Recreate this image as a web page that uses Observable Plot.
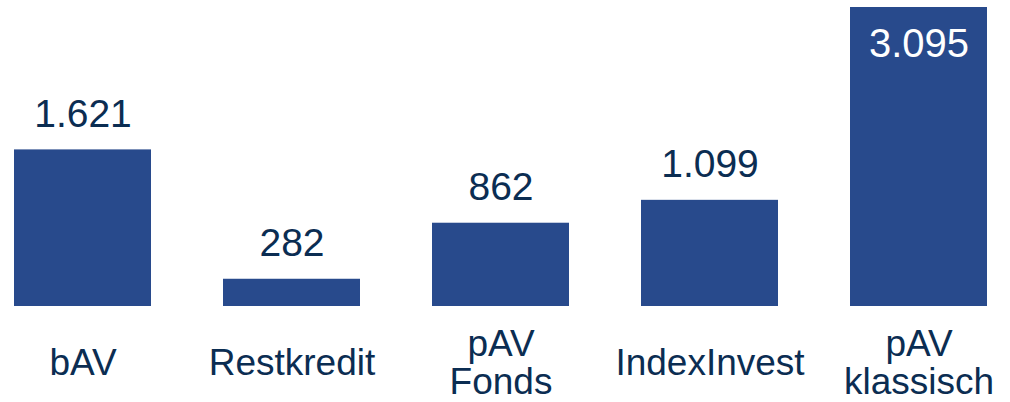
<!DOCTYPE html>
<html>
<head>
<meta charset="utf-8">
<script src="https://cdn.jsdelivr.net/npm/d3@7"></script>
<script src="https://cdn.jsdelivr.net/npm/@observablehq/plot@0.6"></script>
<style>
  html, body { margin: 0; padding: 0; background: #fff; }
  svg { display: block; }
</style>
</head>
<body>
<div id="chart"></div>
<script>
const categories = ["bAV", "Restkredit", "pAV\nFonds", "IndexInvest", "pAV\nklassisch"];
const values = [1621, 282, 862, 1099, 3095];

const data = categories.map((c, i) => ({category: c, value: values[i]}));
const maxValue = d3.max(values);
const fmt = d3.formatLocale({decimal: ",", thousands: ".", grouping: [3], currency: ["", "€"]}).format(",");

const barColor = "#284a8c";
const textColor = "#0b2d52";

const chart = Plot.plot({
  width: 1010,
  height: 402,
  marginLeft: 14,
  marginRight: 23,
  marginTop: 7,
  marginBottom: 96,
  style: {fontFamily: "'Liberation Sans', Arial, sans-serif", background: "#fff"},
  x: {domain: categories, paddingInner: 0.3445, paddingOuter: 0, label: null},
  y: {domain: [0, maxValue], axis: null},
  marks: [
    Plot.barY(data, {x: "category", y: "value", fill: barColor}),
    Plot.text(data.filter(d => d.value < maxValue), {
      x: "category", y: "value", text: d => fmt(d.value),
      lineAnchor: "bottom", dy: -23, fontSize: 39, fill: textColor
    }),
    Plot.text(data.filter(d => d.value === maxValue), {
      x: "category", y: "value", text: d => fmt(d.value),
      lineAnchor: "bottom", dy: 49, fontSize: 40, fill: "#ffffff"
    }),
    Plot.axisX({
      tickSize: 0, tickPadding: 56, lineAnchor: "middle", lineHeight: 1.05,
      fontSize: 37, color: textColor, label: null
    })
  ]
});
document.getElementById("chart").appendChild(chart);
</script>
</body>
</html>
